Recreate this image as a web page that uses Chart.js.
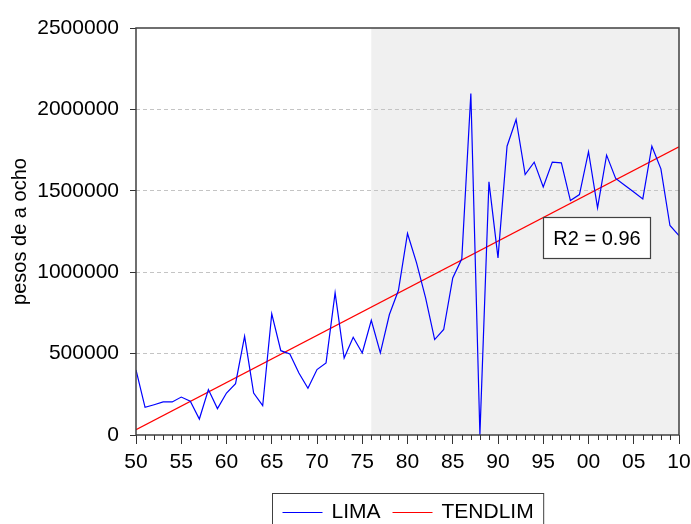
<!DOCTYPE html>
<html>
<head>
<meta charset="utf-8">
<script src="https://cdn.jsdelivr.net/npm/chart.js@4.4.0/dist/chart.umd.min.js"></script>
<style>
html,body{margin:0;padding:0;background:#ffffff;}
canvas{display:block;}
</style>
</head>
<body>
<canvas id="c" width="691" height="524"></canvas>
<script>
// ---- data ----
const years = [1950,1951,1952,1953,1954,1955,1956,1957,1958,1959,
               1960,1961,1962,1963,1964,1965,1966,1967,1968,1969,
               1970,1971,1972,1973,1974,1975,1976,1977,1978,1979,
               1980,1981,1982,1983,1984,1985,1986,1987,1988,1989,
               1990,1991,1992,1993,1994,1995,1996,1997,1998,1999,
               2000,2001,2002,2003,2004,2005,2006,2007,2008,2009,2010];
const lima = [400000,170000,186000,203000,203000,233000,207000,98000,279000,162000,
              258000,315000,606000,258000,180000,744000,518000,498000,381000,287000,
              402000,443000,873000,473000,600000,504000,705000,504000,740000,889000,
              1238000,1057000,842000,586000,648000,965000,1082000,2098000,0,1555000,
              1088000,1774000,1938000,1600000,1676000,1524000,1676000,1672000,1440000,1477000,
              1740000,1395000,1719000,1576000,1534000,1492000,1450000,1774000,1635000,1287000,1225000];
const trendYears = [1950, 2010];
const trendValues = [32800, 1770000];
const xTickValues = [1950,1955,1960,1965,1970,1975,1980,1985,1990,1995,2000,2005,2010];
const yTickValues = [0,500000,1000000,1500000,2000000,2500000];
const shadeStartYear = 1976;
const r2Text = 'R2 = 0.96';
const r2AnchorYear = 1995;
const r2AnchorValue = 1340000;

const FONT = '"Liberation Sans", Arial, Helvetica, sans-serif';
Chart.defaults.font.family = FONT;
Chart.defaults.color = '#000000';

const shadePlugin = {
  id: 'shade',
  beforeDraw(chart) {
    const {ctx, chartArea, scales} = chart;
    const x0 = scales.x.getPixelForValue(shadeStartYear);
    ctx.save();
    ctx.fillStyle = '#f0f0f0';
    ctx.fillRect(x0, chartArea.top, chartArea.right - x0, chartArea.bottom - chartArea.top);
    ctx.restore();
  }
};

const framePlugin = {
  id: 'frame',
  afterDatasetsDraw(chart) {
    const {ctx, chartArea, scales} = chart;
    ctx.save();
    ctx.strokeStyle = '#404040';
    ctx.lineWidth = 1.5;
    ctx.strokeRect(chartArea.left, chartArea.top, chartArea.right - chartArea.left, chartArea.bottom - chartArea.top);
    // minor ticks (every year)
    ctx.lineWidth = 1;
    ctx.strokeStyle = '#333333';
    ctx.beginPath();
    years.forEach(yr => {
      if (yr % 5 !== 0) {
        const px = Math.round(scales.x.getPixelForValue(yr)) + 0.5;
        ctx.moveTo(px, chartArea.bottom);
        ctx.lineTo(px, chartArea.bottom + 5);
      }
    });
    ctx.stroke();
    ctx.restore();
  }
};

const legendPlugin = {
  id: 'boxLegend',
  afterDraw(chart) {
    const {ctx, chartArea} = chart;
    ctx.save();
    ctx.font = '21px ' + FONT;
    const sample = 40, gapText = 9, gapItem = 12, padX = 10;
    const items = chart.data.datasets.map(d => ({label: d.label, color: d.borderColor, w: ctx.measureText(d.label).width}));
    let total = padX * 2;
    items.forEach((it, i) => { total += sample + gapText + it.w + (i > 0 ? gapItem : 0); });
    const cx = (chartArea.left + chartArea.right) / 2;
    const left = Math.round(cx - total / 2) + 0.5;
    const top = Math.round(chartArea.bottom + 58) + 0.5;
    ctx.strokeStyle = '#404040';
    ctx.lineWidth = 1;
    ctx.strokeRect(left, top, total, 60);
    const cy = top + 19;
    let x = left + padX;
    items.forEach((it, i) => {
      if (i > 0) x += gapItem;
      ctx.strokeStyle = it.color;
      ctx.lineWidth = 1.2;
      ctx.beginPath();
      ctx.moveTo(x, cy); ctx.lineTo(x + sample, cy);
      ctx.stroke();
      x += sample + gapText;
      ctx.fillStyle = '#000000';
      ctx.textBaseline = 'middle';
      ctx.textAlign = 'left';
      ctx.fillText(it.label, x, cy);
      x += it.w;
    });
    ctx.restore();
  }
};

const annotationPlugin = {
  id: 'r2box',
  afterDatasetsDraw(chart) {
    const {ctx, scales} = chart;
    const left = Math.round(scales.x.getPixelForValue(r2AnchorYear)) + 0.5;
    const top = Math.round(scales.y.getPixelForValue(r2AnchorValue)) + 0.5;
    const w = 107, h = 41;
    ctx.save();
    ctx.fillStyle = '#ffffff';
    ctx.fillRect(left, top, w, h);
    ctx.strokeStyle = '#404040';
    ctx.lineWidth = 1.2;
    ctx.strokeRect(left, top, w, h);
    ctx.fillStyle = '#000000';
    ctx.font = '20px ' + FONT;
    ctx.textAlign = 'center';
    ctx.textBaseline = 'middle';
    ctx.fillText(r2Text, left + w / 2, top + h / 2 + 1);
    ctx.restore();
  }
};

const ctx = document.getElementById('c').getContext('2d');
new Chart(ctx, {
  type: 'line',
  data: {
    datasets: [
      {
        label: 'LIMA',
        data: years.map((yr, i) => ({x: yr, y: lima[i]})),
        borderColor: '#0000ff',
        borderWidth: 1.2,
        pointRadius: 0,
        tension: 0,
        fill: false
      },
      {
        label: 'TENDLIM',
        data: trendYears.map((yr, i) => ({x: yr, y: trendValues[i]})),
        borderColor: '#ff0000',
        borderWidth: 1.2,
        pointRadius: 0,
        tension: 0,
        fill: false
      }
    ]
  },
  options: {
    responsive: false,
    animation: false,
    devicePixelRatio: 1,
    layout: {padding: {top: 28, right: 12, left: 0, bottom: 0}},
    plugins: {legend: {display: false}, tooltip: {enabled: false}},
    scales: {
      x: {
        type: 'linear',
        min: 1950,
        max: 2010,
        afterFit: s => { s.height = 89; s.paddingLeft = 0; s.paddingRight = 0; },
        afterBuildTicks: s => { s.ticks = xTickValues.map(v => ({value: v})); },
        ticks: {
          autoSkip: false,
          maxRotation: 0,
          padding: 6,
          color: '#000000',
          font: {size: 21},
          callback: v => String(v % 100).padStart(2, '0')
        },
        grid: {drawOnChartArea: false, drawTicks: true, tickLength: 9, tickColor: '#333333', color: '#333333'},
        border: {display: false}
      },
      y: {
        min: 0,
        max: 2500000,
        afterFit: s => { s.width = 136; s.paddingTop = 0; s.paddingBottom = 0; },
        afterBuildTicks: s => { s.ticks = yTickValues.map(v => ({value: v})); },
        ticks: {
          padding: 11,
          color: '#000000',
          font: {size: 21},
          callback: v => String(v)
        },
        grid: {
          color: c => (c.tick && c.tick.value > 0 && c.tick.value < 2500000) ? '#c4c4c4' : 'rgba(0,0,0,0)',
          tickColor: '#333333',
          tickLength: 6,
          lineWidth: 1
        },
        border: {display: false, dash: [4, 3]},
        title: {display: true, text: 'pesos de a ocho', color: '#000000', font: {size: 20}, padding: {top: 8, bottom: 0}}
      }
    }
  },
  plugins: [shadePlugin, framePlugin, legendPlugin, annotationPlugin]
});
</script>
</body>
</html>
